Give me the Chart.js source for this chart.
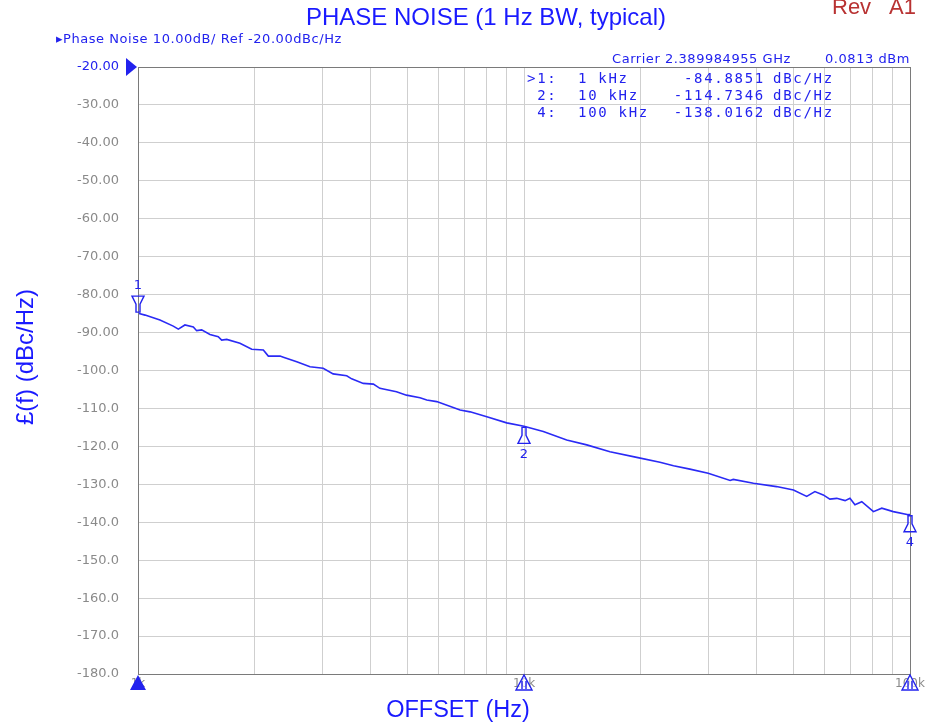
<!DOCTYPE html>
<html><head><meta charset="utf-8">
<script src="https://cdn.jsdelivr.net/npm/chart.js@4.4.1/dist/chart.umd.min.js"></script>
<style>html,body{margin:0;padding:0;background:#fff;}#wrap{width:935px;height:726px;position:relative;}</style>
</head><body><div id="wrap"><canvas id="c" width="935" height="726"></canvas></div>
<script>
// ---- data ----
const offsetHz = [1000,1043,1140,1234,1272,1323,1391,1419,1462,1536,1614,1647,1698,1837,1971,2112,2176,2334,2380,2578,2790,3018,3203,3473,3577,3834,4072,4233,4674,4960,5378,5598,5940,6830,7250,8010,9020,10000,11220,12900,14540,16700,19590,22500,24400,26900,30000,34200,34850,39300,45100,49900,54000,56700,59600,62000,64600,67900,69900,72000,75000,80400,84500,90500,99000,100000];
const noiseDbc = [-84.9,-85.4,-86.7,-88.3,-89.1,-88.0,-88.5,-89.5,-89.3,-90.5,-91.1,-92.0,-91.8,-92.8,-94.4,-94.6,-96.2,-96.2,-96.5,-97.7,-99.0,-99.4,-100.9,-101.4,-102.2,-103.4,-103.6,-104.7,-105.6,-106.5,-107.2,-107.8,-108.2,-110.4,-110.9,-112.2,-113.8,-114.7,-116.1,-118.3,-119.6,-121.4,-122.9,-124.2,-125.1,-126.0,-127.1,-129.0,-128.7,-129.7,-130.6,-131.5,-133.2,-131.9,-132.8,-133.9,-133.7,-134.3,-133.7,-135.4,-134.6,-137.2,-136.3,-137.2,-138.0,-138.0];
const gridFreqs = [1000,2000,3000,4000,5000,6000,7000,8000,9000,10000,20000,30000,40000,50000,60000,70000,80000,90000,100000];
const decadeLabels = {1000:'1k',10000:'10k',100000:'100k'};
const yMin = -180, yMax = -20, yStep = 10;
const markerIds = ['1','2','4'];
const markerHz = [1000,10000,100000];
const markerDbc = [-84.8851,-114.7346,-138.0162];
const markerFreqText = ['1 kHz','10 kHz','100 kHz'];
const markerPrefix = ['>1:',' 2:',' 4:'];
const markerAbove = [true,false,false];

const BLUE = '#2222ee';
const GRAY = '#8a8a8a';

const overlay = {
  id:'overlay',
  afterDraw(chart){
    const ctx = chart.ctx, a = chart.chartArea, xs = chart.scales.x, ys = chart.scales.y;
    ctx.save();
    // frame
    ctx.strokeStyle = '#7a7a7a'; ctx.lineWidth = 1;
    ctx.strokeRect(Math.round(a.left)+0.5, Math.round(a.top)+0.5, Math.round(a.right-a.left), Math.round(a.bottom-a.top));
    // trace markers
    ctx.strokeStyle = BLUE; ctx.fillStyle = BLUE; ctx.lineWidth = 1.4;
    ctx.font = '13px "DejaVu Sans"'; ctx.textAlign='center'; ctx.textBaseline='middle';
    for(let i=0;i<markerHz.length;i++){
      const x = Math.min(xs.getPixelForValue(markerHz[i]), a.right);
      const y = ys.getPixelForValue(markerDbc[i]);
      const s = markerAbove[i] ? -1 : 1;
      ctx.beginPath();
      ctx.moveTo(x-2, y+s*1); ctx.lineTo(x-2, y+s*9); ctx.lineTo(x-6, y+s*17);
      ctx.lineTo(x+6, y+s*17); ctx.lineTo(x+2, y+s*9); ctx.lineTo(x+2, y+s*1);
      ctx.closePath(); ctx.stroke();
      ctx.fillText(markerIds[i], x, y + s*28);
    }
    // bottom stimulus triangles
    const yb = a.bottom;
    for(let i=0;i<markerHz.length;i++){
      const x = xs.getPixelForValue(markerHz[i]);
      ctx.beginPath(); ctx.moveTo(x, yb+1); ctx.lineTo(x-8, yb+16); ctx.lineTo(x+8, yb+16); ctx.closePath();
      if(i===0){ ctx.fill(); } else { ctx.fillStyle='rgba(255,255,255,0.5)'; ctx.fill(); ctx.fillStyle=BLUE; ctx.stroke();
        ctx.beginPath(); ctx.moveTo(x-2,yb+7); ctx.lineTo(x-2,yb+15); ctx.moveTo(x+2,yb+7); ctx.lineTo(x+2,yb+15); ctx.stroke(); }
    }
    // reference level arrow
    const yr = ys.getPixelForValue(yMax);
    ctx.beginPath(); ctx.moveTo(a.left-12, yr-9); ctx.lineTo(a.left-12, yr+9); ctx.lineTo(a.left-1, yr); ctx.closePath(); ctx.fill();

    // titles
    ctx.textBaseline='middle';
    ctx.fillStyle = '#1a1aff';
    ctx.font = '24px "Liberation Sans", Arial';
    ctx.textAlign='center';
    ctx.fillText('PHASE NOISE (1 Hz BW, typical)', 486, 18);
    ctx.font = '23.5px "Liberation Sans", Arial';
    ctx.fillText('OFFSET (Hz)', 458, 711);
    ctx.save(); ctx.translate(26, 357); ctx.rotate(-Math.PI/2);
    ctx.font = '24px "Liberation Sans", Arial';
    ctx.fillText('\u00a3(f) (dBc/Hz)', 0, 0); ctx.restore();
    ctx.fillStyle = '#b83232'; ctx.textAlign='left'; ctx.font = '22px "Liberation Sans", Arial';
    ctx.textBaseline='alphabetic';
    ctx.fillText('Rev', 832, 14);
    ctx.fillText('A1', 889, 14);
    // header texts
    ctx.textBaseline='middle';
    ctx.fillStyle = BLUE; ctx.font = '13px "DejaVu Sans"';
    try{ ctx.letterSpacing = '0.55px'; }catch(e){}
    ctx.fillText('\u25B8Phase Noise 10.00dB/ Ref -20.00dBc/Hz', 56, 40);
    ctx.fillText('Carrier 2.389984955 GHz', 612, 60);
    ctx.textAlign='right';
    ctx.fillText('0.0813 dBm', 910, 60);
    // marker table
    ctx.font = '14px "DejaVu Sans Mono"';
    try{ ctx.letterSpacing = '1.7px'; }catch(e){}
    for(let i=0;i<markerHz.length;i++){
      const ty = 79 + i*17;
      ctx.textAlign='left';
      ctx.fillText(markerPrefix[i], 527, ty);
      ctx.fillText(markerFreqText[i], 578, ty);
      ctx.textAlign='right';
      ctx.fillText(markerDbc[i].toFixed(4), 765, ty);
      ctx.textAlign='left';
      ctx.fillText('dBc/Hz', 773, ty);
    }
    ctx.restore();
  }
};

new Chart(document.getElementById('c'), {
  type:'line',
  data:{ datasets:[{
    data: offsetHz.map((f,i)=>({x:f, y:noiseDbc[i]})),
    borderColor:'#2a2af5', borderWidth:1.6, pointRadius:0, tension:0, fill:false
  }]},
  options:{
    responsive:false, animation:false, devicePixelRatio:1,
    layout:{ padding:{ left:0, right:25, top:67, bottom:0 } },
    plugins:{ legend:{display:false}, tooltip:{enabled:false}, title:{display:false} },
    scales:{
      x:{
        type:'logarithmic', min:1000, max:100000,
        afterBuildTicks(s){ s.ticks = gridFreqs.map(v=>({value:v})); },
        afterFit(s){ s.height = 52; },
        ticks:{ autoSkip:false, maxRotation:0, padding:3, color:GRAY, font:{family:'DejaVu Sans', size:12},
          callback:(v)=> decadeLabels[v] || '' },
        grid:{ color:'#cfcfcf', lineWidth:1, drawTicks:false },
        border:{ display:true, color:'#7a7a7a', width:1 }
      },
      y:{
        min:yMin, max:yMax,
        afterFit(s){ s.width = 138; },
        ticks:{ stepSize:yStep, padding:19, autoSkip:false,
          color:(c)=> c.tick && c.tick.value===yMax ? BLUE : GRAY,
          font:{family:'DejaVu Sans', size:13},
          callback:(v)=> v > -100 ? v.toFixed(2) : v.toFixed(1) },
        grid:{ color:'#cfcfcf', lineWidth:1, drawTicks:false },
        border:{ display:true, color:'#7a7a7a', width:1 }
      }
    }
  },
  plugins:[overlay]
});
</script></body></html>
